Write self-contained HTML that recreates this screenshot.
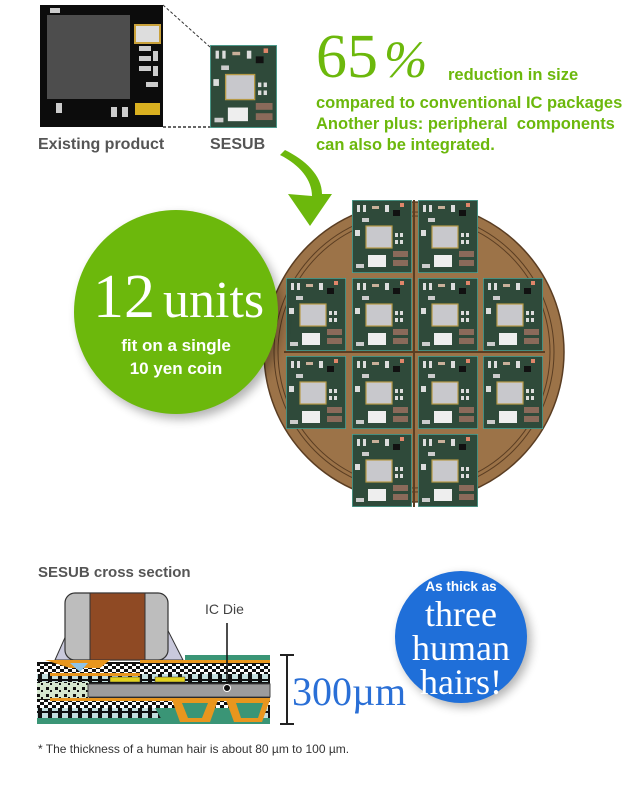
<!DOCTYPE html>
<html><head><meta charset="utf-8"><style>
body{margin:0;width:640px;height:798px;background:#fff;position:relative;overflow:hidden;font-family:"Liberation Sans",sans-serif}
.a{position:absolute;white-space:nowrap}
.g{color:#6cb80c;font-weight:bold;font-size:16.5px}
</style></head><body>
<svg width="640" height="798" style="position:absolute;left:0;top:0">
<defs>
<symbol id="t" viewBox="0 0 60 73">
<rect x="0" y="0" width="60" height="73" fill="#2f4a3a" stroke="#4fa596" stroke-width="1.5"/>
<rect x="5" y="5" width="3" height="7" fill="#ddd"/><rect x="11" y="5" width="3" height="7" fill="#ddd"/>
<rect x="20" y="6" width="7" height="3" fill="#c9b09a"/><rect x="33" y="5" width="4" height="7" fill="#ddd"/>
<rect x="48" y="3" width="4" height="4" fill="#e0866a"/><rect x="41" y="10" width="7" height="6" fill="#111"/>
<rect x="10" y="18" width="7" height="4" fill="#ccc"/>
<rect x="14" y="26" width="26" height="22" fill="#c8c8cc" stroke="#b79a46" stroke-width="1.2"/>
<rect x="43" y="33" width="3" height="4" fill="#ddd"/><rect x="48" y="33" width="3" height="4" fill="#ddd"/>
<rect x="43" y="40" width="3" height="4" fill="#ddd"/><rect x="48" y="40" width="3" height="4" fill="#ddd"/>
<rect x="16" y="55" width="18" height="12" fill="#eee"/>
<rect x="41" y="51" width="15" height="6" fill="#8a6a5a"/><rect x="41" y="60" width="15" height="6" fill="#8a6a5a"/>
<rect x="4" y="64" width="8" height="4" fill="#ccc"/><rect x="3" y="30" width="5" height="6" fill="#ddd"/>
</symbol>
<pattern id="ck" width="8" height="6" patternUnits="userSpaceOnUse"><rect width="8" height="6" fill="#fff"/><rect width="4" height="3" fill="#111"/><rect x="4" y="3" width="4" height="3" fill="#111"/></pattern>
<pattern id="sq" width="10" height="8" patternUnits="userSpaceOnUse"><rect width="10" height="8" fill="#111"/><rect x="2" y="1" width="6" height="6" fill="#c3dede"/></pattern>
<pattern id="dt" width="9" height="7" patternUnits="userSpaceOnUse"><rect width="9" height="7" fill="#d6e8cf"/><rect x="1" y="1" width="3" height="3" fill="#111"/><rect x="5" y="4" width="2" height="2" fill="#111"/></pattern>
</defs>
<!-- existing product -->
<rect x="40" y="5" width="123" height="122" fill="#0c0c0c"/>
<rect x="47" y="15" width="83" height="84" fill="#4d4d4d"/>
<rect x="135" y="25" width="25" height="18" fill="#ddd" stroke="#c9a13a" stroke-width="2"/>
<rect x="139" y="46" width="12" height="5" fill="#ccc"/><rect x="139" y="56" width="12" height="5" fill="#ccc"/>
<rect x="139" y="66" width="12" height="5" fill="#ccc"/><rect x="153" y="51" width="5" height="10" fill="#ccc"/>
<rect x="153" y="66" width="5" height="10" fill="#ccc"/><rect x="146" y="82" width="12" height="5" fill="#ccc"/>
<rect x="135" y="103" width="25" height="12" fill="#d9b020"/><rect x="111" y="107" width="6" height="10" fill="#ccc"/>
<rect x="122" y="107" width="6" height="10" fill="#ccc"/><rect x="56" y="103" width="6" height="10" fill="#ccc"/>
<rect x="50" y="8" width="10" height="5" fill="#ccc"/>
<line x1="163" y1="5" x2="210" y2="47" stroke="#333" stroke-dasharray="3,2"/>
<line x1="163" y1="127" x2="210" y2="127" stroke="#333" stroke-width="1.5" stroke-dasharray="3,2"/>
<svg x="210" y="45" width="67" height="83" viewBox="0 0 60 73" preserveAspectRatio="none"><use href="#t"/></svg>
<!-- arrow -->
<path d="M280 155 C300 165 312 180 312 196 L288 194 L310 226 L332 194 L322 194 C322 175 305 160 285 150 Z" fill="#6cb80c"/>
<!-- coin -->
<circle cx="414" cy="352" r="150" fill="#9c7348" stroke="#5a3d22" stroke-width="1.5"/>
<circle cx="414" cy="352" r="140" fill="none" stroke="#5a3d22" stroke-width="1"/>
<circle cx="414" cy="352" r="136" fill="none" stroke="#5a3d22" stroke-width="1"/>
<line x1="414" y1="200" x2="414" y2="507" stroke="#5a3d22" stroke-width="2"/>
<line x1="284" y1="352" x2="545" y2="352" stroke="#5a3d22" stroke-width="2"/>
<use href="#t" x="352" y="200" width="60" height="73"/><use href="#t" x="418" y="200" width="60" height="73"/>
<use href="#t" x="286" y="278" width="60" height="73"/><use href="#t" x="352" y="278" width="60" height="73"/>
<use href="#t" x="418" y="278" width="60" height="73"/><use href="#t" x="483" y="278" width="60" height="73"/>
<use href="#t" x="286" y="356" width="60" height="73"/><use href="#t" x="352" y="356" width="60" height="73"/>
<use href="#t" x="418" y="356" width="60" height="73"/><use href="#t" x="483" y="356" width="60" height="73"/>
<use href="#t" x="352" y="434" width="60" height="73"/><use href="#t" x="418" y="434" width="60" height="73"/>
<defs><filter id="sh" x="-20%" y="-20%" width="140%" height="140%"><feGaussianBlur stdDeviation="5"/></filter></defs>
<circle cx="180" cy="317" r="102" fill="#000" opacity="0.3" filter="url(#sh)"/>
<circle cx="176" cy="312" r="102" fill="#6cb80c"/>
<circle cx="465" cy="641" r="66" fill="#000" opacity="0.3" filter="url(#sh)"/>
<circle cx="461" cy="637" r="66" fill="#1f6fd9"/>
<!-- cross section -->
<path d="M55 660 L75 615 L160 615 L183 660 Z" fill="#c9c9dc" stroke="#333" stroke-width="1"/>
<rect x="65" y="593" width="103" height="67" rx="10" fill="#bdbdbd" stroke="#333" stroke-width="1.2"/>
<rect x="90" y="593" width="55" height="67" fill="#8f4a24" stroke="#333" stroke-width="1"/>
<rect x="185" y="655" width="85" height="9" fill="#3a9576"/>
<rect x="37" y="662" width="233" height="62" fill="#111"/>
<rect x="37" y="664" width="233" height="10" fill="url(#ck)"/>
<rect x="37" y="674" width="233" height="8" fill="url(#sq)"/>
<rect x="37" y="682" width="52" height="17" fill="url(#dt)"/>
<rect x="88" y="684" width="182" height="13" fill="#9c9c9c" stroke="#444"/>
<rect x="37" y="700" width="233" height="8" fill="url(#ck)"/>
<rect x="37" y="708" width="233" height="10" fill="url(#sq)"/>
<rect x="37" y="718" width="233" height="6" fill="#3a9576"/>
<rect x="110" y="677" width="30" height="5" fill="#e2d21e" stroke="#333" stroke-width="0.5"/>
<rect x="155" y="677" width="30" height="5" fill="#e2d21e" stroke="#333" stroke-width="0.5"/>
<path d="M45 660 H110 L100 668 H70 Z" fill="#e8961e"/><path d="M70 663 L80 672 L88 663 Z" fill="#8fc4e8"/>
<path d="M50 673 H140 V676 H50 Z" fill="#e8961e"/>
<path d="M140 660 H270 V663 H140 Z" fill="#e8961e"/>
<path d="M50 698 H270 V701 H50 Z" fill="#e8961e"/>
<path d="M155 708 L163 722 H242 L250 708 Z" fill="#3a9576"/>
<path d="M172 700 L180 722 H210 L218 700 Z" fill="#e8961e"/><path d="M182 703 L188 718 H202 L208 703 Z" fill="#3a9576"/>
<path d="M226 700 L234 722 H262 L270 700 Z" fill="#e8961e"/><path d="M236 703 L241 718 H258 L263 703 Z" fill="#3a9576"/>
<line x1="227" y1="623" x2="227" y2="688" stroke="#111" stroke-width="1.5"/>
<circle cx="227" cy="688" r="3.5" fill="#111" stroke="#fff" stroke-width="1"/>
<path d="M280 655 H294 M287 655 V724 M280 724 H294" stroke="#222" stroke-width="2" fill="none"/>
</svg>
<div class="a" style="left:38px;top:136px;font-size:16px;font-weight:bold;color:#555">Existing product</div>
<div class="a" style="left:210px;top:136px;font-size:16px;font-weight:bold;color:#555">SESUB</div>
<div class="a" style="left:316px;top:22px;font-family:'Liberation Serif',serif;color:#6cb80c;font-size:62px;line-height:70px">65<span style="font-size:52px;margin-left:6px;font-style:italic">%</span></div>
<div class="a g" style="left:448px;top:66px">reduction in size</div>
<div class="a g" style="left:316px;top:93px;line-height:21px">compared to conventional IC packages<br>Another plus: peripheral&nbsp; components<br>can also be integrated.</div>
<div class="a" style="left:93px;top:264px;font-family:'Liberation Serif',serif;color:#fff;font-size:62px;line-height:66px">12<span style="font-size:52px;margin-left:8px">units</span></div>
<div class="a" style="left:76px;top:334px;width:200px;text-align:center;color:#fff;font-weight:bold;font-size:17px;line-height:23px">fit on a single<br>10 yen coin</div>
<div class="a" style="left:395px;top:579px;width:132px;text-align:center;color:#fff;font-weight:bold;font-size:13.5px">As thick as</div>
<div class="a" style="left:395px;top:597px;width:132px;text-align:center;color:#fff;font-family:'Liberation Serif',serif;font-size:36px;line-height:34px">three<br>human<br>hairs!</div>
<div class="a" style="left:38px;top:564px;font-size:15px;font-weight:bold;color:#555">SESUB cross section</div>
<div class="a" style="left:205px;top:601px;font-size:14px;color:#444">IC Die</div>
<div class="a" style="left:292px;top:668px;font-family:'Liberation Serif',serif;color:#2a6fd6;font-size:40px;line-height:48px">300µm</div>
<div class="a" style="left:38px;top:742px;font-size:12px;color:#333">* The thickness of a human hair is about 80 µm to 100 µm.</div>
</body></html>
